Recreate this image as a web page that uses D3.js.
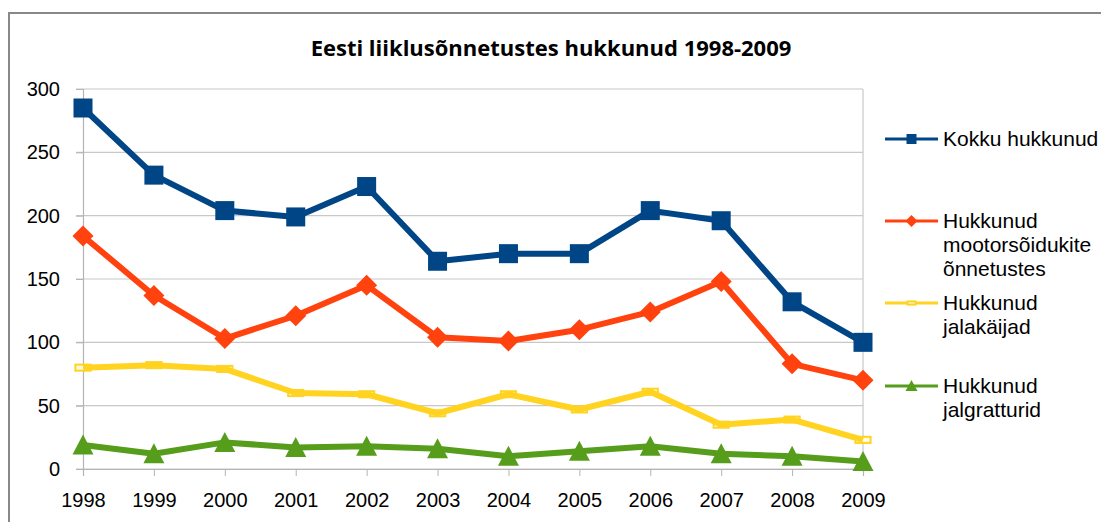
<!DOCTYPE html>
<html>
<head>
<meta charset="utf-8">
<script src="https://cdn.jsdelivr.net/npm/d3@7"></script>
<style>
  body { margin: 0; background: #fff; }
  svg { display: block; }
</style>
</head>
<body>
<svg id="chart" width="1101" height="522"></svg>
<script>
// data
const years = ["1998", "1999", "2000", "2001", "2002", "2003", "2004", "2005", "2006", "2007", "2008", "2009"];
const kokku = [285, 232, 204, 199, 223, 164, 170, 170, 204, 196, 132, 100];
const mootor = [184, 137, 103, 121, 145, 104, 101, 110, 124, 148, 83, 70];
const jalakaijad = [80, 82, 79, 60, 59, 44, 59, 47, 61, 35, 39, 23];
const jalgratturid = [19, 12, 21, 17, 18, 16, 10, 14, 18, 12, 10, 6];
const yTicks = [0, 50, 100, 150, 200, 250, 300];
const seriesNames = [["Kokku hukkunud"], ["Hukkunud", "mootorsõidukite", "õnnetustes"], ["Hukkunud", "jalakäijad"], ["Hukkunud", "jalgratturid"]];

const series = [
  { values: kokku, color: "#004586", marker: "square" },
  { values: mootor, color: "#ff420e", marker: "diamond" },
  { values: jalakaijad, color: "#ffd320", marker: "dash" },
  { values: jalgratturid, color: "#579d1c", marker: "triangle" }
];

const svg = d3.select("#chart");
const font = "'Liberation Sans', Arial, sans-serif";

// outer frame
svg.append("rect")
  .attr("x", 9).attr("y", 13)
  .attr("width", 1200).attr("height", 600)
  .attr("fill", "none").attr("stroke", "#888").attr("stroke-width", 2);

svg.append("text")
  .attr("x", 551).attr("y", 56)
  .attr("text-anchor", "middle")
  .attr("font-family", "'Open Sans', sans-serif")
  .attr("font-weight", "bold")
  .attr("font-size", 22)
  .attr("fill", "#000")
  .text("Eesti liiklusõnnetustes hukkunud 1998-2009");

const plotLeft = 83, plotRight = 863, plotTop = 89, plotBottom = 469;

const x = d3.scalePoint().domain(years).range([plotLeft, plotRight]);
const y = d3.scaleLinear().domain([0, 300]).range([plotBottom, plotTop]);

// gridlines
svg.append("g")
  .selectAll("line")
  .data(yTicks)
  .join("line")
  .attr("x1", plotLeft - 7).attr("x2", plotRight)
  .attr("y1", d => y(d)).attr("y2", d => y(d))
  .attr("stroke", "#c8c8c8").attr("stroke-width", 1.2);

// plot border right
svg.append("line")
  .attr("x1", plotRight).attr("x2", plotRight).attr("y1", plotTop).attr("y2", plotBottom)
  .attr("stroke", "#c8c8c8").attr("stroke-width", 1.2);

// y axis
const yAxis = svg.append("g")
  .attr("transform", `translate(${plotLeft},0)`)
  .call(d3.axisLeft(y).tickValues(yTicks).tickSize(7).tickPadding(16));
yAxis.select(".domain").attr("stroke", "#b4b4b4").attr("stroke-width", 1.2);
yAxis.selectAll(".tick line").attr("stroke", "#b4b4b4");
yAxis.selectAll("text").attr("font-family", font).attr("font-size", 20).attr("fill", "#000");

// x axis
const xAxis = svg.append("g")
  .attr("transform", `translate(0,${plotBottom})`)
  .call(d3.axisBottom(x).tickSize(7).tickPadding(17));
xAxis.select(".domain").attr("stroke", "#b4b4b4").attr("stroke-width", 1.2);
xAxis.selectAll(".tick line").attr("stroke", "#b4b4b4");
xAxis.selectAll("text").attr("font-family", font).attr("font-size", 20).attr("fill", "#000");

function drawMarker(g, type, cx, cy, color, s) {
  if (type === "square") {
    g.append("rect").attr("x", cx - s / 2).attr("y", cy - s / 2)
      .attr("width", s).attr("height", s).attr("fill", color);
  } else if (type === "diamond") {
    const h = s / 2 + 1;
    g.append("path").attr("d", `M${cx},${cy - h}L${cx + h},${cy}L${cx},${cy + h}L${cx - h},${cy}Z`).attr("fill", color);
  } else if (type === "triangle") {
    const h = s / 2;
    g.append("path").attr("d", `M${cx},${cy - h - 1}L${cx + h + 1},${cy + h}L${cx - h - 1},${cy + h}Z`).attr("fill", color);
  } else if (type === "dash") {
    g.append("rect").attr("x", cx - s * 0.4).attr("y", cy - s * 0.16)
      .attr("width", s * 0.8).attr("height", s * 0.32)
      .attr("fill", "#fffbe6").attr("stroke", color).attr("stroke-width", 2);
  }
}

const line = d3.line().x((d, i) => x(years[i])).y(d => y(d));

series.forEach(s => {
  const g = svg.append("g");
  s.values.forEach((v, i) => drawMarker(g, s.marker, x(years[i]), y(v), s.color, 19));
  g.append("path")
    .datum(s.values)
    .attr("d", line)
    .attr("fill", "none")
    .attr("stroke", s.color)
    .attr("stroke-width", 6)
    .attr("stroke-linejoin", "round");
});

// legend
const legendY = [139, 221, 303, 386];
series.forEach((s, k) => {
  const g = svg.append("g");
  const ly = legendY[k];
  g.append("line").attr("x1", 885).attr("x2", 938).attr("y1", ly).attr("y2", ly)
    .attr("stroke", s.color).attr("stroke-width", 3);
  drawMarker(g, s.marker, 911.5, ly, s.color, 10);
  const t = g.append("text")
    .attr("x", 943).attr("y", ly + 7)
    .attr("font-family", font).attr("font-size", 21).attr("fill", "#000");
  seriesNames[k].forEach((ln, j) => {
    t.append("tspan").attr("x", 943).attr("dy", j === 0 ? 0 : 24).text(ln);
  });
});
</script>
</body>
</html>
